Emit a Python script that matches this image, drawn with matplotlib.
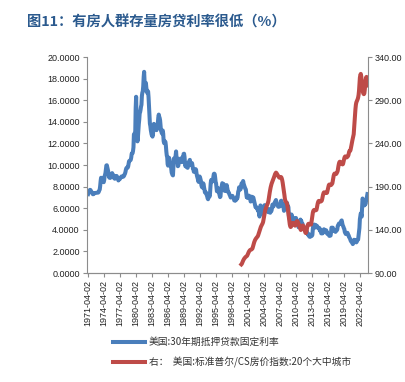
import matplotlib
matplotlib.use('Agg')
import matplotlib.pyplot as plt
import numpy as np
import pandas as pd

plt.rcParams['font.family'] = ['Liberation Sans', 'Noto Sans CJK SC', 'DejaVu Sans']

# 美国30年期抵押贷款固定利率 (%), monthly from 1971-04
rate_30y = [
    7.31, 7.43, 7.53, 7.60, 7.70, 7.69, 7.63, 7.55, 7.48,                  # 1971
    7.44, 7.32, 7.29, 7.37, 7.38, 7.37, 7.40, 7.41, 7.42, 7.43, 7.44, 7.44,  # 1972
    7.44, 7.44, 7.46, 7.54, 7.65, 7.73, 8.05, 8.50, 8.82, 8.77, 8.58, 8.54,  # 1973
    8.54, 8.46, 8.41, 8.58, 8.97, 9.09, 9.28, 9.59, 9.96, 9.98, 9.79, 9.62,  # 1974
    9.43, 9.10, 8.89, 8.82, 8.99, 9.01, 8.84, 8.86, 9.15, 9.25, 9.10, 9.08,  # 1975
    9.02, 8.82, 8.76, 8.73, 8.79, 8.96, 8.95, 8.99, 8.92, 8.82, 8.73, 8.57,  # 1976
    8.72, 8.67, 8.69, 8.75, 8.83, 8.86, 8.94, 8.94, 8.90, 8.92, 8.92, 8.96,  # 1977
    9.02, 9.15, 9.20, 9.36, 9.57, 9.71, 9.74, 9.78, 9.76, 9.86, 10.11, 10.35,  # 1978
    10.39, 10.41, 10.43, 10.50, 10.69, 11.04, 11.09, 11.09, 11.30, 11.64, 12.83, 12.90,  # 1979
    12.88, 13.04, 15.28, 16.32, 14.26, 12.71, 12.19, 12.56, 13.20, 13.79, 14.21, 14.79,  # 1980
    14.90, 15.13, 15.40, 15.58, 16.40, 16.70, 16.83, 17.29, 18.16, 18.63, 17.83, 16.92,  # 1981
    17.40, 17.60, 17.16, 16.89, 16.68, 16.70, 16.82, 16.27, 15.43, 14.61, 13.83, 13.62,  # 1982
    13.25, 13.04, 12.80, 12.78, 12.63, 12.87, 13.42, 13.81, 13.73, 13.54, 13.44, 13.42,  # 1983
    13.37, 13.23, 13.39, 13.65, 13.94, 14.42, 14.67, 14.47, 14.35, 14.13, 13.64, 13.18,  # 1984
    13.08, 12.92, 13.17, 13.20, 12.91, 12.22, 12.03, 12.19, 12.19, 12.14, 11.78, 11.26,  # 1985
    10.88, 10.71, 10.08, 9.94, 10.14, 10.68, 10.51, 10.20, 10.01, 9.98, 9.70, 9.31,  # 1986
    9.20, 9.08, 9.04, 9.83, 10.60, 10.54, 10.28, 10.33, 10.89, 11.26, 10.65, 10.64,  # 1987
    10.38, 9.89, 9.93, 10.20, 10.46, 10.46, 10.43, 10.60, 10.48, 10.30, 10.27, 10.61,  # 1988
    10.73, 10.65, 11.03, 11.05, 10.77, 10.20, 9.88, 9.99, 10.13, 9.95, 9.77, 9.74,  # 1989
    9.90, 10.20, 10.27, 10.37, 10.48, 10.16, 10.04, 10.10, 10.18, 10.17, 9.94, 9.67,  # 1990
    9.64, 9.37, 9.50, 9.49, 9.47, 9.62, 9.58, 9.24, 9.01, 8.86, 8.71, 8.50,  # 1991
    8.43, 8.76, 8.94, 8.85, 8.67, 8.51, 8.13, 7.98, 7.92, 8.09, 8.31, 8.22,  # 1992
    7.92, 7.71, 7.46, 7.46, 7.47, 7.42, 7.21, 7.11, 6.92, 6.83, 7.16, 7.17,  # 1993
    7.06, 7.15, 7.68, 8.32, 8.60, 8.40, 8.61, 8.51, 8.64, 8.93, 9.17, 9.20,  # 1994
    9.15, 8.83, 8.46, 8.32, 7.96, 7.57, 7.61, 7.86, 7.64, 7.48, 7.38, 7.20,  # 1995
    7.03, 7.08, 7.62, 7.93, 8.07, 8.32, 8.25, 8.00, 8.23, 7.92, 7.62, 7.60,  # 1996
    7.82, 7.65, 7.90, 8.14, 7.94, 7.69, 7.50, 7.48, 7.43, 7.29, 7.21, 7.10,  # 1997
    6.99, 7.04, 7.13, 7.14, 7.14, 7.00, 6.95, 6.92, 6.72, 6.71, 6.87, 6.72,  # 1998
    6.79, 6.81, 7.04, 6.92, 7.15, 7.55, 7.63, 7.94, 7.82, 7.85, 7.74, 7.91,  # 1999
    8.21, 8.33, 8.24, 8.15, 8.52, 8.29, 8.15, 8.03, 7.91, 7.80, 7.75, 7.38,  # 2000
    7.03, 7.05, 6.95, 7.08, 7.15, 7.16, 7.13, 6.95, 6.82, 6.62, 6.66, 7.07,  # 2001
    7.00, 6.89, 7.01, 6.99, 6.81, 6.65, 6.49, 6.29, 6.09, 6.11, 6.07, 6.05,  # 2002
    5.92, 5.84, 5.75, 5.81, 5.48, 5.23, 5.63, 6.26, 6.15, 5.95, 5.93, 5.88,  # 2003
    5.71, 5.64, 5.45, 5.83, 6.27, 6.29, 6.06, 5.87, 5.75, 5.72, 5.73, 5.75,  # 2004
    5.71, 5.63, 5.93, 5.86, 5.72, 5.58, 5.70, 5.82, 5.77, 6.07, 6.33, 6.27,  # 2005
    6.15, 6.25, 6.32, 6.51, 6.60, 6.68, 6.76, 6.52, 6.40, 6.36, 6.24, 6.14,  # 2006
    6.22, 6.29, 6.16, 6.18, 6.26, 6.66, 6.70, 6.57, 6.38, 6.38, 6.21, 6.10,  # 2007
    5.76, 5.92, 5.97, 5.92, 6.04, 6.32, 6.43, 6.48, 6.04, 6.20, 6.09, 5.33,  # 2008
    5.06, 5.13, 5.00, 4.81, 4.86, 5.42, 5.22, 5.19, 5.06, 4.95, 4.88, 4.93,  # 2009
    5.03, 4.99, 4.97, 5.10, 4.89, 4.74, 4.56, 4.43, 4.35, 4.23, 4.30, 4.71,  # 2010
    4.76, 4.95, 4.84, 4.84, 4.64, 4.51, 4.55, 4.27, 4.11, 4.07, 3.99, 3.96,  # 2011
    3.92, 3.89, 3.95, 3.91, 3.80, 3.68, 3.55, 3.60, 3.50, 3.38, 3.35, 3.35,  # 2012
    3.41, 3.53, 3.57, 3.45, 3.54, 4.07, 4.37, 4.46, 4.49, 4.19, 4.26, 4.46,  # 2013
    4.43, 4.30, 4.34, 4.34, 4.19, 4.16, 4.13, 4.12, 4.16, 3.92, 4.00, 3.86,  # 2014
    3.67, 3.71, 3.77, 3.67, 3.84, 3.98, 4.05, 3.91, 3.89, 3.80, 3.94, 3.96,  # 2015
    3.87, 3.66, 3.69, 3.61, 3.60, 3.57, 3.44, 3.44, 3.46, 3.47, 3.77, 4.20,  # 2016
    4.15, 4.17, 4.20, 4.05, 4.01, 3.90, 3.97, 3.88, 3.81, 3.90, 3.92, 3.95,  # 2017
    4.03, 4.33, 4.44, 4.47, 4.59, 4.57, 4.53, 4.55, 4.63, 4.83, 4.87, 4.64,  # 2018
    4.46, 4.37, 4.27, 4.14, 4.07, 3.80, 3.77, 3.62, 3.61, 3.69, 3.70, 3.72,  # 2019
    3.62, 3.47, 3.45, 3.31, 3.23, 3.16, 3.02, 2.94, 2.89, 2.83, 2.77, 2.68,  # 2020
    2.74, 2.81, 3.08, 3.06, 2.96, 2.98, 2.87, 2.84, 2.90, 3.07, 3.07, 3.10,  # 2021
    3.45, 3.76, 4.17, 4.98, 5.23, 5.52, 5.41, 5.22, 6.11, 6.90, 6.81, 6.36,  # 2022
    6.27, 6.26, 6.54, 6.34, 6.43, 6.71, 6.84, 7.07, 7.31,                    # 2023
]

# 标准普尔/CS房价指数:20个大中城市, monthly from 2000-01
cs_index = [
    100.0, 100.6, 101.9, 103.1, 104.3, 105.4, 106.3, 107.0, 107.7, 108.3, 108.7, 109.0,  # 2000
    109.5, 110.0, 111.0, 112.3, 113.6, 114.7, 115.5, 116.2, 116.7, 116.9, 117.0, 117.3,  # 2001
    117.8, 118.4, 120.0, 122.0, 124.0, 125.7, 127.1, 128.3, 129.3, 130.0, 130.6, 131.3,  # 2002
    132.0, 132.6, 133.8, 135.5, 137.4, 139.1, 140.7, 142.2, 143.5, 144.6, 145.6, 146.6,  # 2003
    147.6, 149.2, 151.9, 155.1, 158.2, 160.9, 163.2, 164.8, 166.1, 167.3, 168.5, 170.0,  # 2004
    171.5, 173.6, 176.8, 180.2, 183.5, 186.4, 189.1, 191.3, 193.2, 194.7, 196.0, 197.4,  # 2005
    198.7, 199.7, 201.4, 203.2, 204.5, 205.5, 206.2, 205.8, 204.9, 203.8, 203.1, 202.3,  # 2006
    201.5, 200.6, 200.3, 200.6, 201.0, 201.2, 200.8, 199.5, 197.5, 194.8, 191.3, 187.8,  # 2007
    184.2, 180.2, 176.1, 173.8, 172.6, 172.0, 171.2, 169.7, 166.8, 162.7, 158.0, 153.7,  # 2008
    149.9, 146.4, 144.3, 143.2, 143.6, 145.2, 146.9, 147.8, 148.0, 147.9, 147.4, 146.8,  # 2009
    145.9, 144.8, 145.4, 147.3, 149.0, 149.9, 150.0, 149.5, 148.3, 146.9, 145.0, 143.6,  # 2010
    142.2, 140.7, 139.8, 140.9, 142.8, 144.3, 145.0, 144.9, 143.9, 142.1, 140.3, 139.1,  # 2011
    137.0, 136.2, 137.0, 139.3, 142.0, 144.5, 146.0, 146.9, 147.0, 146.9, 146.4, 146.1,  # 2012
    146.0, 146.2, 148.8, 152.8, 156.7, 159.8, 161.7, 162.7, 163.0, 162.9, 162.5, 162.5,  # 2013
    162.7, 163.0, 165.0, 168.0, 170.5, 172.3, 173.3, 173.5, 173.3, 173.0, 172.6, 173.2,  # 2014
    173.2, 173.6, 175.3, 178.0, 180.5, 182.3, 183.3, 183.4, 183.2, 182.8, 182.5, 182.7,  # 2015
    182.6, 183.0, 185.2, 188.0, 190.1, 191.7, 192.4, 192.4, 192.1, 191.8, 191.8, 192.5,  # 2016
    193.0, 194.0, 196.9, 200.0, 202.6, 204.3, 205.1, 204.9, 204.6, 204.5, 204.9, 205.9,  # 2017
    206.9, 208.4, 211.5, 214.6, 217.0, 218.5, 218.9, 218.5, 217.5, 216.7, 216.3, 216.0,  # 2018
    215.7, 216.2, 218.4, 220.8, 223.0, 224.4, 225.0, 224.8, 224.2, 223.8, 224.0, 224.7,  # 2019
    225.2, 226.3, 228.7, 230.8, 231.3, 231.3, 232.6, 235.1, 237.9, 240.7, 243.4, 245.6,  # 2020
    247.6, 250.6, 256.9, 264.6, 272.3, 279.8, 284.8, 287.5, 288.8, 289.8, 291.3, 293.1,  # 2021
    296.0, 301.0, 309.0, 316.0, 319.0, 320.5, 318.0, 313.0, 308.0, 303.0, 299.0, 297.5,  # 2022
    297.0, 298.0, 302.0, 308.0, 313.0, 316.5, 317.0, 311.0, 307.0,                       # 2023
]

rate_dates = pd.date_range('1971-04-01', periods=len(rate_30y), freq='MS')
cs_dates = pd.date_range('2000-01-01', periods=len(cs_index), freq='MS')

tick_dates = pd.to_datetime(['%d-04-02' % y for y in range(1971, 2023, 3)])
left_ticks = np.arange(0, 20.01, 2)
right_ticks = np.arange(90, 340.1, 50)

blue = '#4A7EBB'
red = '#BE4B48'
grey = '#8C8C8C'

fig = plt.figure(figsize=(4.06, 3.82), dpi=100)
ax = fig.add_axes([0.2135, 0.2853, 0.6922, 0.5654])
ax2 = ax.twinx()

l1, = ax.plot(rate_dates, rate_30y, color=blue, lw=2.9, solid_joinstyle='round')
l2, = ax2.plot(cs_dates, cs_index, color=red, lw=2.9, solid_joinstyle='round')

ax.set_ylim(0, 20)
ax.set_yticks(left_ticks)
ax.set_yticklabels(['%.4f' % v for v in left_ticks])
ax2.set_ylim(90, 340)
ax2.set_yticks(right_ticks)
ax2.set_yticklabels(['%.2f' % v for v in right_ticks])

ax.set_xlim(pd.Timestamp('1970-12-20'), pd.Timestamp('2023-09-20'))
ax.set_xticks(tick_dates)
ax.set_xticklabels([d.strftime('%Y-%m-%d') for d in tick_dates], rotation=90)

for a in (ax, ax2):
    a.spines['top'].set_visible(False)
    for s in ('left', 'right', 'bottom'):
        a.spines[s].set_color(grey)
        a.spines[s].set_linewidth(0.8)
    a.tick_params(axis='both', colors=grey, labelcolor='#222222', labelsize=6.5,
                  length=3, width=0.8, direction='out', pad=2)
ax2.spines['left'].set_visible(False)
ax.spines['right'].set_visible(False)

fig.text(0.067, 0.942, '图11：有房人群存量房贷利率很低（%）', fontsize=10.3, fontweight='bold',
         color='#2B5A8E', va='center', ha='left',
         family=['Noto Sans CJK SC', 'DejaVu Sans'])

fig.legend([l1, l2], ['美国:30年期抵押贷款固定利率', '右：  美国:标准普尔/CS房价指数:20个大中城市'],
           loc='upper left', bbox_to_anchor=(0.278, 0.118), frameon=False,
           borderpad=0, borderaxespad=0, handlelength=3.3, handletextpad=0.4,
           labelspacing=1.0, prop={'family': ['Noto Sans CJK SC', 'DejaVu Sans'], 'size': 7},
           labelcolor='#333333')

fig.savefig('out.png', dpi=100)
